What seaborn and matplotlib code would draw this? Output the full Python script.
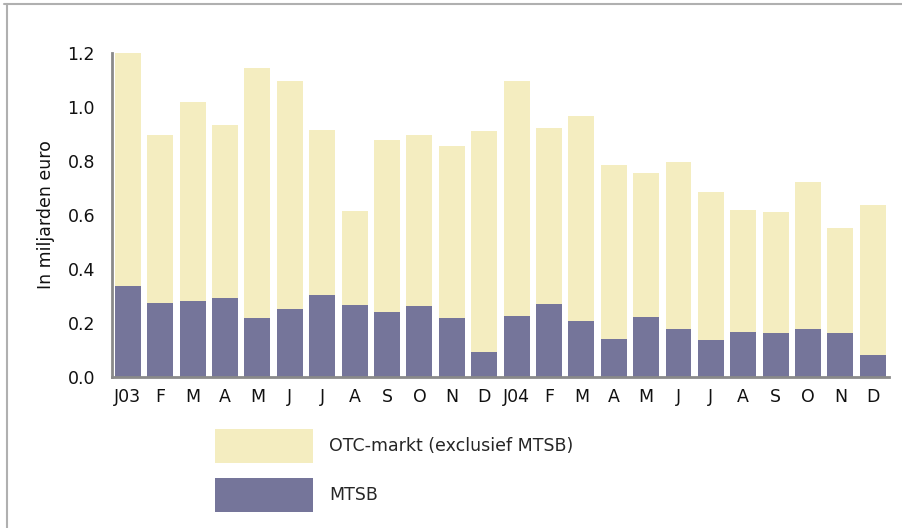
import matplotlib
matplotlib.use("Agg")
import matplotlib.pyplot as plt
from matplotlib.patches import Patch
from matplotlib.lines import Line2D
import seaborn as sns
import pandas as pd

months = ["J03", "F", "M", "A", "M", "J", "J", "A", "S", "O", "N", "D",
          "J04", "F", "M", "A", "M", "J", "J", "A", "S", "O", "N", "D"]
# Total monthly turnover (OTC + MTSB), billions of euro
total = [1.200, 0.895, 1.019, 0.932, 1.144, 1.095, 0.914, 0.614, 0.877, 0.895, 0.853, 0.909,
         1.095, 0.921, 0.965, 0.784, 0.754, 0.795, 0.686, 0.617, 0.610, 0.721, 0.551, 0.637]
# MTSB share, billions of euro
mtsb = [0.337, 0.274, 0.279, 0.293, 0.216, 0.251, 0.301, 0.265, 0.241, 0.262, 0.217, 0.093,
        0.226, 0.268, 0.206, 0.140, 0.220, 0.175, 0.135, 0.167, 0.160, 0.178, 0.160, 0.080]

otc_label = "OTC-markt (exclusief MTSB)"
mtsb_label = "MTSB"
ylabel = "In miljarden euro"

c_otc = "#F4EDC0"
c_mtsb = "#75759A"
c_axis = "#8A8A8A"

sns.set_theme(style="white")
plt.rcParams["font.family"] = ["DejaVu Sans"]

df = pd.DataFrame({"pos": [str(i) for i in range(len(months))],
                   "total": total, "mtsb": mtsb})

fig = plt.figure(figsize=(9.03, 5.28), dpi=100)
ax = fig.add_axes([0.1237, 0.2866, 0.8608, 0.6134])

sns.barplot(data=df, x="pos", y="total", color=c_otc, saturation=1,
            width=0.8, ax=ax, linewidth=0)
sns.barplot(data=df, x="pos", y="mtsb", color=c_mtsb, saturation=1,
            width=0.8, ax=ax, linewidth=0)

ax.set_xlim(-0.5, len(months) - 0.5)
ax.set_ylim(0, 1.2)
yt = [0.0, 0.2, 0.4, 0.6, 0.8, 1.0, 1.2]
ax.set_yticks(yt)
ax.set_yticklabels([f"{v:.1f}" for v in yt], fontsize=12.5, color="#111111")
ax.set_xticks(range(len(months)))
ax.set_xticklabels(months, fontsize=12.5, color="#111111")
ax.set_xlabel("")
ax.set_ylabel(ylabel, fontsize=12.5, color="#111111", labelpad=9)

ax.tick_params(axis="y", direction="in", length=4, width=1.5, color=c_axis, pad=12)
ax.tick_params(axis="x", length=0, pad=8)

for side in ["top", "right"]:
    ax.spines[side].set_visible(False)
for side in ["left", "bottom"]:
    ax.spines[side].set_color(c_axis)
    ax.spines[side].set_linewidth(2)

handles = [Patch(facecolor=c_otc, edgecolor="none", label=otc_label),
           Patch(facecolor=c_mtsb, edgecolor="none", label=mtsb_label)]
fig.legend(handles=handles, loc="upper left", bbox_to_anchor=(0.238, 0.1875),
           frameon=False, fontsize=12.5, handlelength=5.65, handleheight=2.64,
           handletextpad=0.92, labelspacing=0.86, borderaxespad=0, borderpad=0)

# outer frame lines on top and left
fig.add_artist(Line2D([0.004, 1.0], [0.993, 0.993], transform=fig.transFigure,
                      color="#B0B0B0", linewidth=1.5))
fig.add_artist(Line2D([0.0075, 0.0075], [0.0, 0.993], transform=fig.transFigure,
                      color="#B0B0B0", linewidth=1.5))

fig.savefig("out.png", dpi=100)
